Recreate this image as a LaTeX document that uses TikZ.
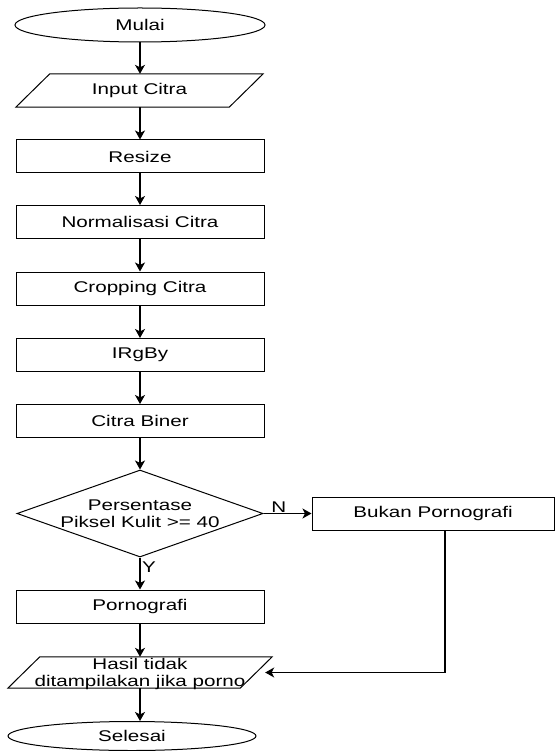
\documentclass[tikz,border=0pt]{standalone}
\usepackage{fontspec}
\setmainfont[FakeStretch=1.33]{Liberation Sans}
\usetikzlibrary{shapes.geometric,arrows.meta}
\begin{document}
\begin{tikzpicture}[x=1pt,y=-1pt,
  every node/.style={font=\fontsize{15.5}{17.5}\selectfont, align=center, inner sep=0pt},
  proc/.style={draw, line width=1pt, minimum width=248pt, minimum height=33pt},
  term/.style={draw, line width=1pt, ellipse, inner sep=0pt},
  iobox/.style={minimum height=33pt},
  arr/.style={line width=1.2pt, -{Stealth[length=9pt,width=10pt,inset=2.5pt]}},
  lbl/.style={font=\fontsize{15.5}{17.5}\selectfont}
]
\useasboundingbox (0,0) rectangle (555,751);
\node[term, minimum width=250pt, minimum height=34pt] (mulai) at (140,25) {Mulai};
\node[iobox, minimum width=247pt] (input) at (139.5,90.5) {Input Citra};
\draw[line width=1pt] (input.south west) -- ([xshift=34pt]input.north west) -- (input.north east) -- ([xshift=-34pt]input.south east) -- cycle;
\node[proc] (resize) at (140,156.5) {Resize};
\node[proc] (norm) at (140,222) {Normalisasi Citra};
\node[proc] (crop) at (140,288.5) {Cropping Citra};
\node[proc] (irgby) at (140,355) {IRgBy};
\node[proc] (biner) at (140,421) {Citra Biner};
\node[draw, line width=1pt, diamond, aspect=2.83, minimum width=246pt, minimum height=87pt] (dec) at (140,513.5) {Persentase\\Piksel Kulit >= 40};
\node[proc, minimum width=242pt] (bukan) at (433,513.5) {Bukan Pornografi};
\node[proc] (porno) at (140,606.5) {Pornografi};
\node[iobox, minimum width=264pt, minimum height=31pt] (hasil) at (140,672.5) {};
\node (hasiltext) at (140,674) {Hasil tidak\\ditampilakan jika porno};
\draw[line width=1pt] (hasil.south west) -- ([xshift=32pt]hasil.north west) -- (hasil.north east) -- ([xshift=-32pt]hasil.south east) -- cycle;
\node[term, minimum width=248pt, minimum height=29pt] (selesai) at (132,736) {Selesai};

\draw[arr] (mulai.south) -- (input.north -| mulai.south);
\draw[arr] (input.south -| resize.north) -- (resize.north);
\draw[arr] (resize.south) -- (norm.north);
\draw[arr] (norm.south) -- (crop.north);
\draw[arr] (crop.south) -- (irgby.north);
\draw[arr] (irgby.south) -- (biner.north);
\draw[arr] (biner.south) -- (dec.north);
\draw[arr] (dec.east) -- node[lbl, pos=0.32, above, inner sep=0.5pt] (nlab) {N} (bukan.west);
\draw[arr] (dec.south) -- node[lbl, pos=0.3, right, inner sep=1.5pt] (ylab) {Y} (porno.north);
\draw[arr] (porno.south) -- (hasil.north);
\draw[arr] ([xshift=12pt]bukan.south) |- ([xshift=-7pt]hasil.east);
\draw[arr] (hasil.south) -- (hasil.south |- selesai.north);
\end{tikzpicture}
\end{document}
